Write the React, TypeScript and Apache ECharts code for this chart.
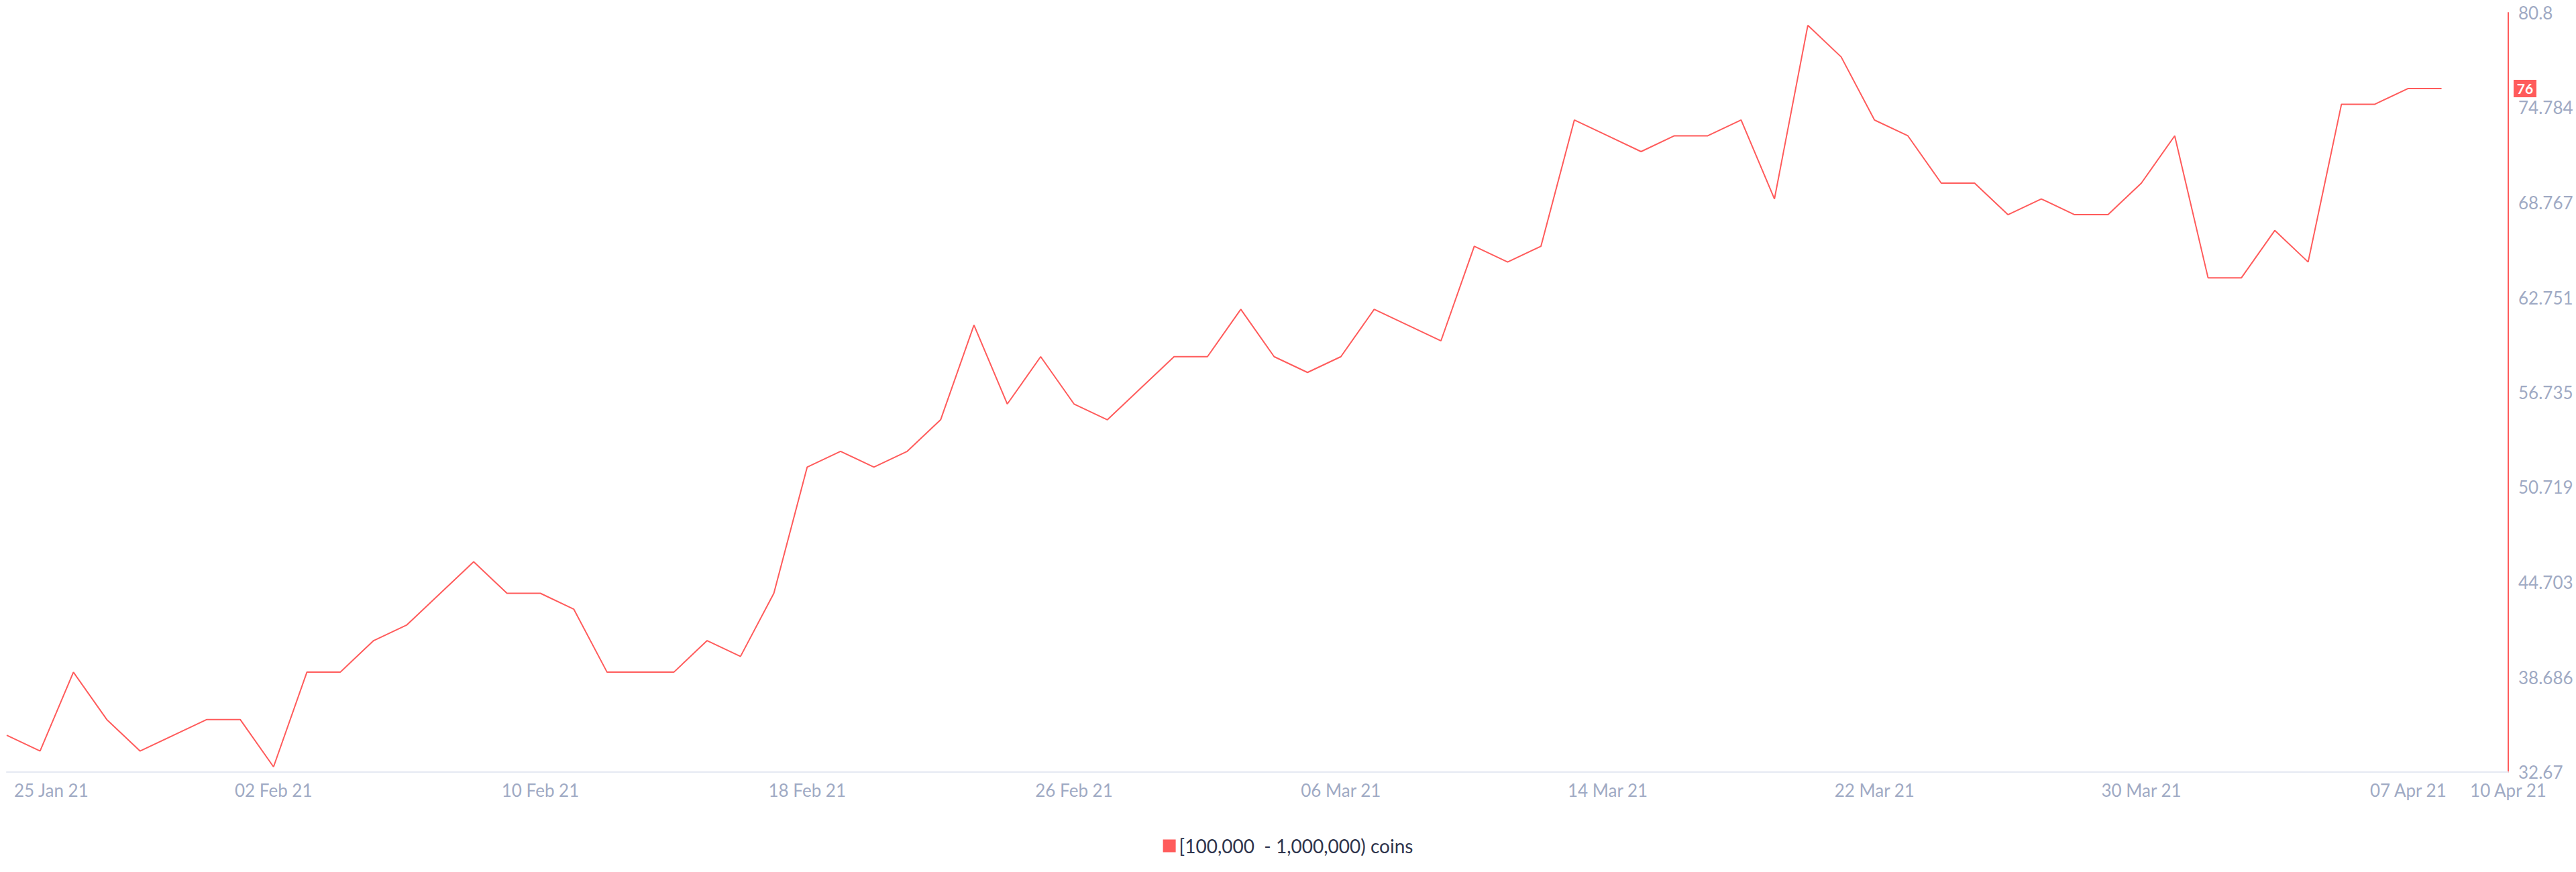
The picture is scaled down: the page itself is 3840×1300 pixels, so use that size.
import React, { useEffect, useRef } from "react";
import * as echarts from "echarts";

const dates: string[] = [
  "25 Jan 21", "26 Jan 21", "27 Jan 21", "28 Jan 21", "29 Jan 21", "30 Jan 21", "31 Jan 21",
  "01 Feb 21", "02 Feb 21", "03 Feb 21", "04 Feb 21", "05 Feb 21", "06 Feb 21", "07 Feb 21",
  "08 Feb 21", "09 Feb 21", "10 Feb 21", "11 Feb 21", "12 Feb 21", "13 Feb 21", "14 Feb 21",
  "15 Feb 21", "16 Feb 21", "17 Feb 21", "18 Feb 21", "19 Feb 21", "20 Feb 21", "21 Feb 21",
  "22 Feb 21", "23 Feb 21", "24 Feb 21", "25 Feb 21", "26 Feb 21", "27 Feb 21", "28 Feb 21",
  "01 Mar 21", "02 Mar 21", "03 Mar 21", "04 Mar 21", "05 Mar 21", "06 Mar 21", "07 Mar 21",
  "08 Mar 21", "09 Mar 21", "10 Mar 21", "11 Mar 21", "12 Mar 21", "13 Mar 21", "14 Mar 21",
  "15 Mar 21", "16 Mar 21", "17 Mar 21", "18 Mar 21", "19 Mar 21", "20 Mar 21", "21 Mar 21",
  "22 Mar 21", "23 Mar 21", "24 Mar 21", "25 Mar 21", "26 Mar 21", "27 Mar 21", "28 Mar 21",
  "29 Mar 21", "30 Mar 21", "31 Mar 21", "01 Apr 21", "02 Apr 21", "03 Apr 21", "04 Apr 21",
  "05 Apr 21", "06 Apr 21", "07 Apr 21", "08 Apr 21", "09 Apr 21", "10 Apr 21",
];

const holders: number[] = [
  35, 34, 39, 36, 34, 35, 36, 36, 33, 39, 39, 41, 42, 44, 46, 44, 44, 43, 39, 39,
  39, 41, 40, 44, 52, 53, 52, 53, 55, 61, 56, 59, 56, 55, 57, 59, 59, 62, 59, 58,
  59, 62, 61, 60, 66, 65, 66, 74, 73, 72, 73, 73, 74, 69, 80, 78, 74, 73, 70, 70,
  68, 69, 68, 68, 70, 73, 64, 64, 67, 65, 75, 75, 76, 76,
];

const seriesName = "[100,000  - 1,000,000) coins";
const yMin = 32.67;
const yMax = 80.8;
const yTickLabels: string[] = ["32.67", "38.686", "44.703", "50.719", "56.735", "62.751", "68.767", "74.784", "80.8"];
const xLabelIndices: number[] = [0, 8, 16, 24, 32, 40, 48, 56, 64, 72, 75];

const RED = "#ff5b5b";
const AXIS_TEXT = "#9faac4";
const FONT = "Lato, 'Open Sans', sans-serif";

export default function App() {
  const ref = useRef<HTMLDivElement>(null);
  useEffect(() => {
    document.body.style.margin = "0";
    const chart = echarts.init(ref.current!, null, { renderer: "svg", width: 3840, height: 1300 });
    const yTickValues = yTickLabels.map(Number);
    chart.setOption({
      animation: false,
      backgroundColor: "#ffffff",
      textStyle: { fontFamily: FONT },
      grid: { left: 10, right: 101, top: 19, bottom: 149, containLabel: false },
      legend: {
        data: [{ name: seriesName, icon: "rect" }],
        left: "center",
        top: 1242,
        itemWidth: 19,
        itemHeight: 19,
        textStyle: { fontSize: 28, color: "#2f354d", fontFamily: FONT },
      },
      xAxis: {
        type: "category",
        data: dates,
        boundaryGap: false,
        axisLine: { show: true, lineStyle: { color: "#e5e9f2", width: 2 } },
        axisTick: { show: false },
        splitLine: { show: false },
        axisLabel: {
          interval: (index: number) => xLabelIndices.indexOf(index) >= 0,
          color: AXIS_TEXT,
          fontSize: 26,
          fontFamily: FONT,
          margin: 14,
          alignMinLabel: "left",
          formatter: (v: string, i: number) => (i === 0 ? "{first|" + v + "}" : v),
          rich: { first: { padding: [0, 0, 0, 11], color: AXIS_TEXT, fontSize: 26, fontFamily: FONT } },
        },
      },
      yAxis: {
        type: "value",
        position: "right",
        min: yMin,
        max: yMax,
        axisLine: { show: true, lineStyle: { color: RED, width: 2 } },
        axisTick: { show: false },
        splitLine: { show: false },
        axisLabel: {
          customValues: yTickValues,
          color: AXIS_TEXT,
          fontSize: 26,
          fontFamily: FONT,
          margin: 15,
          formatter: (v: number) => {
            let best = 0;
            for (let i = 1; i < yTickValues.length; i++) {
              if (Math.abs(yTickValues[i] - v) < Math.abs(yTickValues[best] - v)) best = i;
            }
            return yTickLabels[best];
          },
        },
      },
      series: [
        {
          name: seriesName,
          type: "line",
          data: holders,
          showSymbol: false,
          symbol: "none",
          color: RED,
          lineStyle: { color: RED, width: 2 },
        },
      ],
    });
    const last = holders[holders.length - 1];
    const py = chart.convertToPixel({ yAxisIndex: 0 }, last) as number;
    const px = chart.convertToPixel({ xAxisIndex: 0 }, dates.length - 1) as number;
    chart.setOption({
      graphic: [
        {
          type: "group",
          children: [
            { type: "rect", shape: { x: px + 8, y: py - 13, width: 34, height: 26 }, style: { fill: RED } },
            {
              type: "text",
              x: px + 25,
              y: py,
              style: {
                text: String(last),
                fill: "#ffffff",
                font: "bold 21px " + FONT,
                textAlign: "center",
                textVerticalAlign: "middle",
              },
            },
          ],
        },
      ],
    });
    return () => chart.dispose();
  }, []);
  return <div ref={ref} style={{ position: "fixed", left: 0, top: 0, width: 3840, height: 1300 }} />;
}
